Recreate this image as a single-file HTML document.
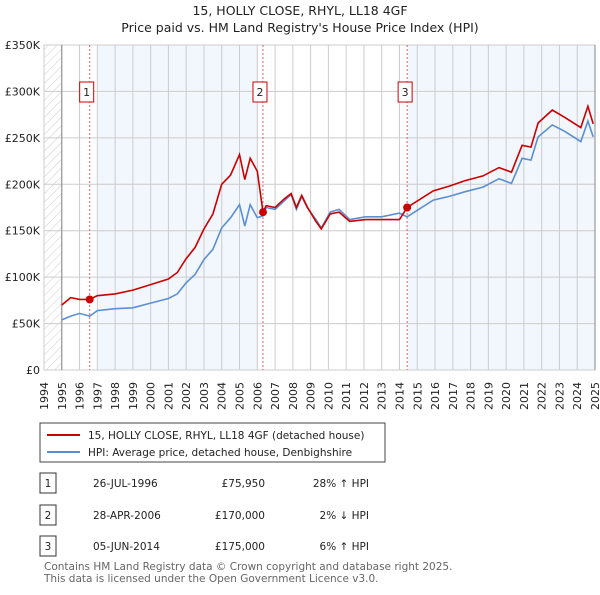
<!DOCTYPE html>
<html><head><meta charset="utf-8"><style>
body{margin:0;background:#fff;font-family:"Liberation Sans","DejaVu Sans",sans-serif;}
svg text{font-family:"DejaVu Sans","Liberation Sans",sans-serif;fill:#222;}
</style></head><body>
<svg id="chart" width="600" height="590" viewBox="0 0 600 590">
<defs><pattern id="hatch" width="6" height="6" patternUnits="userSpaceOnUse" patternTransform="rotate(45)"><line x1="0" y1="0" x2="0" y2="6" stroke="#ccc" stroke-width="1"/></pattern></defs>
<text x="300" y="15" text-anchor="middle" font-size="12.5">15, HOLLY CLOSE, RHYL, LL18 4GF</text>
<text x="300" y="32" text-anchor="middle" font-size="12.5">Price paid vs. HM Land Registry's House Price Index (HPI)</text>
<g id="plot"></g>
<g>
<rect x="40" y="423" width="345" height="39" fill="#fff" stroke="#444" stroke-width="1"/>
<line x1="47" y1="435" x2="80" y2="435" stroke="#cc0000" stroke-width="2"/>
<text x="88" y="439" font-size="10.5">15, HOLLY CLOSE, RHYL, LL18 4GF (detached house)</text>
<line x1="47" y1="452" x2="80" y2="452" stroke="#5b8fd4" stroke-width="2"/>
<text x="88" y="456" font-size="10.5">HPI: Average price, detached house, Denbighshire</text>
</g>
<g id="table" font-size="10.5"></g>
<text x="44" y="570" font-size="10.5" style="fill:#666">Contains HM Land Registry data © Crown copyright and database right 2025.</text>
<text x="44" y="582" font-size="10.5" style="fill:#666">This data is licensed under the Open Government Licence v3.0.</text>
</svg>
<script>
const dates=[1995.0,1995.5,1996.0,1996.57,1997,1998,1999,2000,2001,2001.5,2002,2002.5,2003,2003.5,2004,2004.5,2005,2005.3,2005.6,2006.0,2006.32,2006.5,2007,2007.5,2007.9,2008.2,2008.5,2008.8,2009.3,2009.6,2010.1,2010.6,2011.2,2012.1,2013.0,2014.0,2014.43,2015.9,2016.8,2017.7,2018.7,2019.6,2020.3,2020.9,2021.4,2021.8,2022.6,2023.3,2024.2,2024.6,2024.9];
const hpiValues=[54,58,61,58,64,66,67,72,77,82,94,103,119,130,153,164,178,155,178,164,166,175,173,182,189,173,187,175,162,153,170,173,162,165,165,169,165,183,187,192,197,206,201,228,226,251,264,257,246,268,251];
const priceValues=[70,78,76,76,80,82,86,92,98,105,120,132,152,168,200,210,232,205,228,214,170,177,175,184,190,175,188,176,160,152,168,170,160,162,162,162,175,193,198,204,209,218,213,242,240,266,280,272,261,284,265];
const yTicks=[0,50,100,150,200,250,300,350];
const yTickLabels=["£0","£50K","£100K","£150K","£200K","£250K","£300K","£350K"];
const years=[1994,1995,1996,1997,1998,1999,2000,2001,2002,2003,2004,2005,2006,2007,2008,2009,2010,2011,2012,2013,2014,2015,2016,2017,2018,2019,2020,2021,2022,2023,2024,2025];
const saleDates=[1996.57,2006.32,2014.43];
const salePrices=[75.95,170,175];
const saleLabels=["1","2","3"];
const tableDates=["26-JUL-1996","28-APR-2006","05-JUN-2014"];
const tablePrices=["£75,950","£170,000","£175,000"];
const tableHpi=["28% ↑ HPI","2% ↓ HPI","6% ↑ HPI"];

const X0=44,X1=595,Y0=370,Y1=45;
const xs=y=>X0+(y-1994)/(2025-1994)*(X1-X0);
const ys=v=>Y0-v/350*(Y0-Y1);
const NS="http://www.w3.org/2000/svg";
const plot=document.getElementById('plot');
function mk(tag,attrs,parent){const e=document.createElementNS(NS,tag);for(const k in attrs)e.setAttribute(k,attrs[k]);(parent||plot).appendChild(e);return e;}

let r=mk('rect',{x:X0,y:Y1,width:X1-X0,height:Y0-Y1,fill:'#fff',stroke:'#ccc'});


let s1=mk('rect',{x:98,y:Y1,width:258-98,height:Y0-Y1,fill:'#f2f6fd'});


let s2=mk('rect',{x:xs(saleDates[2]),y:Y1,width:X1-xs(saleDates[2]),height:Y0-Y1,fill:'#f2f6fd'});


let h=mk('rect',{x:X0,y:Y1,width:xs(1995)-X0,height:Y0-Y1,fill:'url(#hatch)'});



years.forEach(yr=>{
 const x=xs(yr);
 let g=mk('line',{x1:x,y1:Y1,x2:x,y2:Y0,stroke:'#ccc','stroke-width':1});
 
 
 let t=mk('text',{x:0,y:0,'text-anchor':'end','font-size':11,transform:'translate('+(x+4)+','+(Y0+12)+') rotate(-90)'});
 t.textContent=yr;
 
 
});
yTicks.forEach((v,i)=>{
 const y=ys(v);
 let g=mk('line',{x1:X0,y1:y,x2:X1,y2:y,stroke:'#ccc','stroke-width':1});
 
 
 let t=mk('text',{x:X0-4,y:y+4,'text-anchor':'end','font-size':11});
 t.textContent=yTickLabels[i];
 
 
});
mk('line',{x1:xs(1995),y1:Y1,x2:xs(1995),y2:Y0,stroke:'#888'});
mk('line',{x1:X1,y1:Y1,x2:X1,y2:Y0,stroke:'#888'});

saleDates.forEach((d,i)=>{
 const x=xs(d);
 let l=mk('line',{x1:x,y1:Y1,x2:x,y2:Y0,stroke:'#e06060','stroke-width':1,'stroke-dasharray':'2,2'});
 
 
 const bx=x-(i==0?3:i==1?3:2)-7;
 let b=mk('rect',{x:bx,y:82,width:14,height:20,fill:'#fff',stroke:'#cc0000'});
 
 
 let t=mk('text',{x:bx+7,y:96,'text-anchor':'middle','font-size':11});
 t.textContent=saleLabels[i];
 
 
});

const path=vals=>dates.map((d,i)=>(i?'L':'M')+xs(d).toFixed(1)+','+ys(vals[i]).toFixed(1)).join('');
let hp=mk('path',{d:path(hpiValues),fill:'none',stroke:'#5b8fd4','stroke-width':1.6});


let pp=mk('path',{d:path(priceValues),fill:'none',stroke:'#cc0000','stroke-width':1.6});


saleDates.forEach((d,i)=>{
 let c=mk('circle',{cx:xs(d),cy:ys(salePrices[i]),r:4,fill:'#cc0000'});
 
 
});

const tbl=document.getElementById('table');
[483,515,546].forEach((y,i)=>{
 let b=mk('rect',{x:40,y:y-10,width:16,height:20,fill:'#fff',stroke:'#333'},tbl);
 
 
 let t=mk('text',{x:48,y:y+4,'text-anchor':'middle'},tbl);t.textContent=saleLabels[i];
 
 
 let a=mk('text',{x:93,y:y+4},tbl);a.textContent=tableDates[i];
 
 
 let p=mk('text',{x:265,y:y+4,'text-anchor':'end'},tbl);p.textContent=tablePrices[i];
 
 
 let q=mk('text',{x:369,y:y+4,'text-anchor':'end'},tbl);q.textContent=tableHpi[i];
 
 
});
</script>
</body></html>
